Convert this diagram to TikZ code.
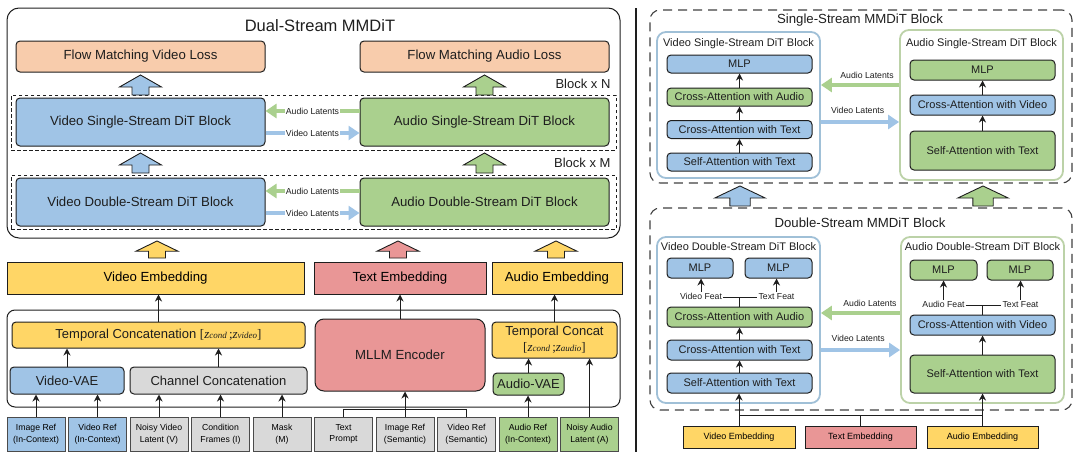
\documentclass[tikz,border=0pt]{standalone}
\usepackage{fontspec}
\setmainfont{Liberation Sans}
\newfontfamily\zfont{Liberation Serif}
\usetikzlibrary{arrows.meta}

\definecolor{vblue}{RGB}{160,196,230}
\definecolor{agreen}{RGB}{170,208,142}
\definecolor{lpeach}{RGB}{248,204,172}
\definecolor{embyel}{RGB}{255,214,102}
\definecolor{tpink}{RGB}{233,150,150}
\definecolor{lgray}{RGB}{217,217,217}
\definecolor{vframe}{RGB}{160,192,215}
\definecolor{aframe}{RGB}{188,210,168}
\definecolor{ink}{RGB}{30,30,30}

\newcommand{\zcat}[1]{{\zfont[\textit{z}{\fontsize{9}{9}\selectfont\textit{cond}}\,;\textit{z}{\fontsize{9}{9}\selectfont\textit{#1}}]}}

\begin{document}
\begin{tikzpicture}[
  x=1pt,y=-1pt,
  box/.style={draw=ink,line width=1pt,rounded corners=4pt,align=center,inner sep=0pt,text=ink},
  bigbox/.style={box,minimum width=249pt,minimum height=48pt,font=\fontsize{13.2}{15}\selectfont},
  lossbox/.style={box,fill=lpeach,minimum width=249pt,minimum height=31pt,font=\fontsize{13.2}{15}\selectfont},
  embbox/.style={draw=ink,line width=1pt,align=center,inner sep=0pt,minimum height=32pt,font=\fontsize{13.2}{15}\selectfont},
  embsmall/.style={draw=ink,line width=0.9pt,inner sep=0pt,minimum height=22pt,font=\fontsize{9}{11}\selectfont},
  inbox/.style={draw=ink!80,line width=0.9pt,align=center,inner sep=0pt,minimum width=58pt,minimum height=34pt,font=\fontsize{8.7}{11.5}\selectfont},
  midbox/.style={box,minimum height=27pt,font=\fontsize{13}{15}\selectfont},
  layerbox/.style={box,minimum width=145pt,minimum height=18pt,font=\fontsize{11}{13}\selectfont},
  dframe/.style={rounded corners=9pt,line width=1.8pt,minimum width=163pt},
  dashframe/.style={draw=ink,line width=0.8pt,dash pattern=on 3.5pt off 2.5pt},
  dashbig/.style={draw=ink!85,line width=1.1pt,dash pattern=on 9pt off 6pt,rounded corners=10pt},
  flowarr/.style={-{Stealth[length=7pt,width=7pt]},line width=0.9pt,draw=ink},
  latA/.style={-{Triangle[length=11pt,width=14pt]},line width=4pt,draw=agreen},
  latV/.style={-{Triangle[length=11pt,width=14pt]},line width=4pt,draw=vblue},
  tinylbl/.style={font=\fontsize{8.7}{10}\selectfont,text=ink,inner sep=1pt},
  headlbl/.style={font=\fontsize{11}{13}\selectfont,text=ink},
  fatup/.pic={\path[draw=ink,line width=0.9pt,pic actions] (-8.5,0) -- (-8.5,-8) -- (-21,-8) -- (0,-20) -- (21,-8) -- (8.5,-8) -- (8.5,0) -- cycle;}
]
  \useasboundingbox (0,0) rectangle (1080,461);

  \node[draw=ink,line width=1pt,rounded corners=12pt,minimum width=613pt,minimum height=230pt] (dual) at (313.5,123) {};
  \node[font=\fontsize{16.5}{18}\selectfont,text=ink] (dualtitle) at (320,26) {Dual-Stream MMDiT};
  \node[lossbox] (lossv) at (140.5,56.5) {Flow Matching Video Loss};
  \node[lossbox] (lossa) at (484.5,56.5) {Flow Matching Audio Loss};

  \node[dashframe,minimum width=605pt,minimum height=55pt] (blockn) at (313.5,122.5) {};
  \node[dashframe,minimum width=605pt,minimum height=54pt] (blockm) at (313.5,202) {};
  \node[font=\fontsize{13}{15}\selectfont,text=ink,anchor=east] (ntimes) at (614,84) {Block x N};
  \node[font=\fontsize{13}{15}\selectfont,text=ink,anchor=east] (mtimes) at (614,163) {Block x M};

  \node[bigbox,fill=vblue] (vsingle) at (140.5,122) {Video Single-Stream DiT Block};
  \node[bigbox,fill=agreen] (asingle) at (484.5,122) {Audio Single-Stream DiT Block};
  \node[bigbox,fill=vblue] (vdouble) at (140.5,202) {Video Double-Stream DiT Block};
  \node[bigbox,fill=agreen] (adouble) at (484.5,202) {Audio Double-Stream DiT Block};

  \draw[latA] ([yshift=11pt]asingle.west) -- node[tinylbl,fill=white] {Audio Latents} ([yshift=11pt]vsingle.east);
  \draw[latV] ([yshift=-11pt]vsingle.east) -- node[tinylbl,fill=white] {Video Latents} ([yshift=-11pt]asingle.west);
  \draw[latA] ([yshift=11pt]adouble.west) -- node[tinylbl,fill=white] {Audio Latents} ([yshift=11pt]vdouble.east);
  \draw[latV] ([yshift=-11pt]vdouble.east) -- node[tinylbl,fill=white] {Video Latents} ([yshift=-11pt]adouble.west);

  \pic[fill=vblue] at (140.5,95) {fatup};
  \pic[fill=agreen] at (484.5,95) {fatup};
  \pic[fill=vblue] at (140.5,173) {fatup};
  \pic[fill=agreen] at (484.5,173) {fatup};

  \pic[fill=embyel,yscale=0.85] at (157,258) {fatup};
  \pic[fill=tpink,yscale=0.85] at (398,258) {fatup};
  \pic[fill=embyel,yscale=0.85] at (556,258) {fatup};

  \node[embbox,fill=embyel,minimum width=297pt] (vemb) at (155.5,278) {Video Embedding};
  \node[embbox,fill=tpink,minimum width=172pt] (temb) at (400,278) {Text Embedding};
  \node[embbox,fill=embyel,minimum width=130pt] (aemb) at (557,278) {Audio Embedding};

  \node[draw=ink,line width=1pt,rounded corners=8pt,minimum width=613pt,minimum height=97pt] (encoders) at (313.5,358.5) {};
  \node[midbox,fill=embyel,minimum width=293pt,minimum height=26pt] (tcat) at (158.5,335) {Temporal Concatenation \zcat{video}};
  \node[midbox,fill=vblue,minimum width=114pt] (vvae) at (67,380.5) {Video-VAE};
  \node[midbox,fill=lgray,minimum width=177pt] (ccat) at (218.5,380.5) {Channel Concatenation};
  \node[box,fill=tpink,rounded corners=9pt,minimum width=170pt,minimum height=72pt,font=\fontsize{13.2}{15}\selectfont] (mllm) at (400,355) {MLLM Encoder};
  \node[midbox,fill=embyel,minimum width=125pt,minimum height=36pt,font=\fontsize{13}{16}\selectfont] (acat) at (554.5,340) {Temporal Concat\\\zcat{audio}};
  \node[midbox,fill=agreen,minimum width=71pt,minimum height=22pt] (avae) at (528.5,384) {Audio-VAE};

  \foreach \nm/\i/\col/\txt in {imgref/0/vblue/{Image Ref\\(In-Context)},vidref/1/vblue/{Video Ref\\(In-Context)},
      noisyv/2/lgray/{Noisy Video\\Latent (V)},condfr/3/lgray/{Condition\\Frames (I)},mask/4/lgray/{Mask\\(M)},
      prompt/5/lgray/{Text\\Prompt},imgsem/6/lgray/{Image Ref\\(Semantic)},vidsem/7/lgray/{Video Ref\\(Semantic)},
      audref/8/agreen/{Audio Ref\\(In-Context)},noisya/9/agreen/{Noisy Audio\\Latent (A)}}
    \node[inbox,fill=\col] (\nm) at ({36+61.5*\i},434) {\txt};

  \draw[flowarr] (imgref) -- (imgref |- vvae.south);
  \draw[flowarr] (vidref) -- (vidref |- vvae.south);
  \draw[flowarr] (noisyv) -- (noisyv |- ccat.south);
  \draw[flowarr] (condfr) -- (condfr |- ccat.south);
  \draw[flowarr] (mask) -- (mask |- ccat.south);
  \draw[flowarr] (vvae) -- (vvae |- tcat.south);
  \draw[flowarr] (ccat) -- (ccat |- tcat.south);
  \draw[flowarr] (tcat) -- (tcat |- vemb.south);
  \draw[line width=0.9pt,draw=ink] (prompt.north) -- ++(0,-7) -| (vidsem.north);
  \draw[flowarr] (imgsem) -- (imgsem |- mllm.south);
  \draw[flowarr] (mllm) -- (mllm |- temb.south);
  \draw[flowarr] (audref) -- (audref |- avae.south);
  \draw[flowarr] (avae) -- (avae |- acat.south);
  \draw[flowarr] (noisya) -- (noisya |- acat.south);
  \draw[flowarr] (acat) -- (acat |- aemb.south);

  \draw[line width=1.6pt,draw=ink] (636,8) -- (636,452);

  \node[dashbig,minimum width=422pt,minimum height=173pt] (sgl) at (861,96.5) {};
  \node[font=\fontsize{13.2}{15}\selectfont,text=ink] (sgltitle) at (860,20) {Single-Stream MMDiT Block};
  \node[dframe,draw=vframe,minimum height=146pt] (vsblk) at (738.5,105) {};
  \node[dframe,draw=aframe,minimum height=150pt] (asblk) at (981.5,105) {};
  \node[headlbl] (vstitle) at (738.5,44) {Video Single-Stream DiT Block};
  \node[headlbl] (astitle) at (981.5,44) {Audio Single-Stream DiT Block};

  \node[layerbox,fill=vblue] (vs-mlp) at (739.5,64) {MLP};
  \node[layerbox,fill=agreen] (vs-caa) at (739.5,97) {Cross-Attention with Audio};
  \node[layerbox,fill=vblue] (vs-cat) at (739.5,129.5) {Cross-Attention with Text};
  \node[layerbox,fill=vblue] (vs-sa) at (739.5,162) {Self-Attention with Text};
  \node[layerbox,fill=agreen,minimum height=20pt] (as-mlp) at (982.5,70) {MLP};
  \node[layerbox,fill=vblue,minimum height=20pt] (as-cav) at (982.5,105) {Cross-Attention with Video};
  \node[layerbox,fill=agreen,minimum height=39pt] (as-sa) at (982.5,150.5) {Self-Attention with Text};

  \draw[flowarr] (vs-sa) -- (vs-cat);
  \draw[flowarr] (vs-cat) -- (vs-caa);
  \draw[flowarr] (vs-caa) -- (vs-mlp);
  \draw[flowarr] (as-sa) -- (as-cav);
  \draw[flowarr] (as-cav) -- (as-mlp);

  \draw[latA] ([yshift=20pt]asblk.west) -- node[tinylbl,above=3pt,pos=0.41] {Audio Latents} ([yshift=20pt]vsblk.east);
  \draw[latV] ([yshift=-17pt]vsblk.east) -- node[tinylbl,above=5pt,pos=0.47] {Video Latents} ([yshift=-17pt]asblk.west);

  \pic[fill=vblue,xscale=1.2] at (740,206) {fatup};
  \pic[fill=agreen,xscale=1.2] at (983,206) {fatup};

  \node[dashbig,minimum width=422pt,minimum height=202pt] (dbl) at (861,309) {};
  \node[font=\fontsize{13.2}{15}\selectfont,text=ink] (dbltitle) at (860,223) {Double-Stream MMDiT Block};
  \node[dframe,draw=vframe,minimum height=166pt] (vdblk) at (738.5,320) {};
  \node[dframe,draw=aframe,minimum height=166pt] (adblk) at (982.5,320) {};
  \node[headlbl] (vdtitle) at (738.5,247) {Video Double-Stream DiT Block};
  \node[headlbl] (adtitle) at (982.5,247) {Audio Double-Stream DiT Block};

  \node[layerbox,fill=vblue,minimum width=66pt,minimum height=20pt] (vd-mlp1) at (700,268) {MLP};
  \node[layerbox,fill=vblue,minimum width=67pt,minimum height=20pt] (vd-mlp2) at (778.5,268) {MLP};
  \node[layerbox,fill=agreen,minimum height=20pt] (vd-caa) at (739.5,317) {Cross-Attention with Audio};
  \node[layerbox,fill=vblue,minimum height=20pt] (vd-cat) at (739.5,350) {Cross-Attention with Text};
  \node[layerbox,fill=vblue,minimum height=20pt] (vd-sa) at (739.5,383) {Self-Attention with Text};
  \node[layerbox,fill=agreen,minimum width=67pt,minimum height=20pt] (ad-mlp1) at (943.5,270) {MLP};
  \node[layerbox,fill=agreen,minimum width=66pt,minimum height=20pt] (ad-mlp2) at (1020,270) {MLP};
  \node[layerbox,fill=vblue,minimum height=20pt] (ad-cav) at (982.5,325) {Cross-Attention with Video};
  \node[layerbox,fill=agreen,minimum height=38pt] (ad-sa) at (982.5,374) {Self-Attention with Text};

  \node[tinylbl,anchor=base] (vfeat) at (701,299) {Video Feat};
  \node[tinylbl,anchor=base] (vtfeat) at (776.5,299) {Text Feat};
  \node[tinylbl,anchor=base] (afeat) at (943.5,307) {Audio Feat};
  \node[tinylbl,anchor=base] (atfeat) at (1020.5,307) {Text Feat};

  \draw[flowarr] (vd-sa) -- (vd-cat);
  \draw[flowarr] (vd-cat) -- (vd-caa);
  \draw[line width=0.9pt,draw=ink] ([yshift=2pt]vfeat.base east) -- ([yshift=2pt]vtfeat.base west);
  \draw[line width=0.9pt,draw=ink] (vd-caa.north) -- ++(0,-10);
  \draw[flowarr] (vfeat.north) -- (vfeat.north |- vd-mlp1.south);
  \draw[flowarr] (vtfeat.north) -- (vtfeat.north |- vd-mlp2.south);
  \draw[flowarr] (ad-sa) -- (ad-cav);
  \draw[line width=0.9pt,draw=ink] ([yshift=2pt]afeat.base east) -- ([yshift=2pt]atfeat.base west);
  \draw[line width=0.9pt,draw=ink] (ad-cav.north) -- ++(0,-10);
  \draw[flowarr] (afeat.north) -- (afeat.north |- ad-mlp1.south);
  \draw[flowarr] (atfeat.north) -- (atfeat.north |- ad-mlp2.south);

  \draw[latA] ([yshift=7pt]adblk.west) -- node[tinylbl,above=3pt,pos=0.38] {Audio Latents} ([yshift=7pt]vdblk.east);
  \draw[latV] ([yshift=-30pt]vdblk.east) -- node[tinylbl,above=5pt,pos=0.47] {Video Latents} ([yshift=-30pt]adblk.west);

  \node[embsmall,fill=embyel,minimum width=112pt] (vemb-r) at (739,437) {Video Embedding};
  \node[embsmall,fill=tpink,minimum width=111pt] (temb-r) at (860.5,437) {Text Embedding};
  \node[embsmall,fill=embyel,minimum width=111pt] (aemb-r) at (982.5,437) {Audio Embedding};
  \draw[line width=0.9pt,draw=ink] (vemb-r.north) -- ++(0,-10) coordinate (jv) -- (jv -| aemb-r.north) coordinate (ja) -- (aemb-r.north);
  \draw[line width=0.9pt,draw=ink] (temb-r.north) -- (temb-r.north |- jv);
  \draw[flowarr] (jv) -- (jv |- vd-sa.south);
  \draw[flowarr] (ja) -- (ja |- ad-sa.south);
\end{tikzpicture}
\end{document}
